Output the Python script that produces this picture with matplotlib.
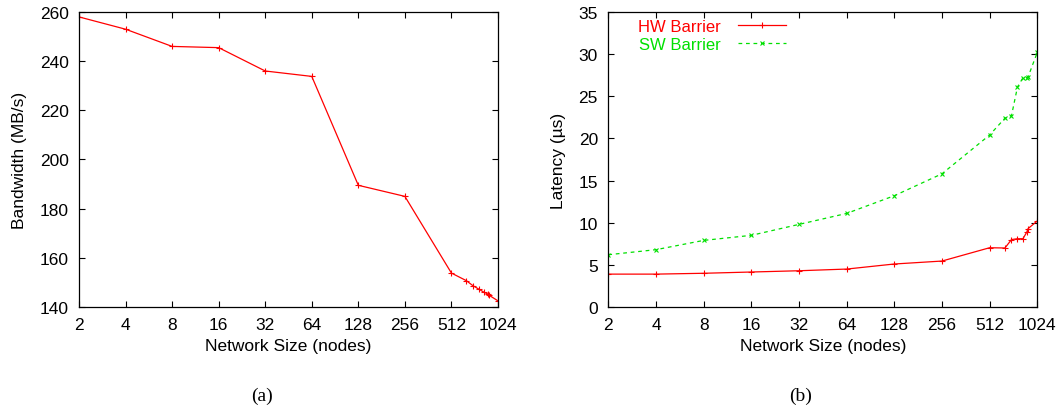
import matplotlib
matplotlib.use('Agg')
import matplotlib.pyplot as plt
from matplotlib.ticker import FixedLocator, NullLocator

plt.rcParams['font.family'] = ['Liberation Sans', 'DejaVu Sans']
plt.rcParams['font.size'] = 12.5

# ---------------- data ----------------
nodes = [2, 4, 8, 16, 32, 64, 128, 256, 512, 640, 704, 768, 832, 880, 896, 1024]
bandwidth = [258, 253, 246, 245.5, 236, 233.8, 189.5, 185, 153.8,
             150.7, 148.7, 147.3, 146.0, 145.3, 144.8, 142.5]
hw_barrier = [3.9, 3.9, 4.0, 4.15, 4.3, 4.5, 5.1, 5.45, 7.03,
              7.0, 8.0, 8.1, 8.1, 8.9, 9.3, 10.2]
sw_barrier = [6.2, 6.8, 7.9, 8.5, 9.8, 11.1, 13.2, 15.8, 20.4,
              22.4, 22.7, 26.1, 27.2, 27.2, 27.3, 30.2]
xticks = [2, 4, 8, 16, 32, 64, 128, 256, 512, 1024]

RED = '#ff0000'
GREEN = '#00e000'


def style_axes(ax, yticks):
    ax.set_xscale('log', base=2)
    ax.set_xlim(2, 1024)
    ax.xaxis.set_major_locator(FixedLocator(xticks))
    ax.xaxis.set_minor_locator(NullLocator())
    ax.set_xticklabels([str(t) for t in xticks])
    ax.set_yticks(yticks)
    ax.set_ylim(yticks[0], yticks[-1])
    ax.tick_params(direction='in', top=True, right=True, length=4.5,
                   width=0.8, pad=7.5, labelsize=12.5)
    for s in ax.spines.values():
        s.set_linewidth(0.9)
    ax.set_xlabel('Network Size (nodes)', fontsize=12.5, labelpad=4)


fig = plt.figure(figsize=(10.62, 4.10), dpi=100)

ax1 = fig.add_axes([0.0744, 0.2488, 0.3945, 0.7195])
ax1.plot(nodes, bandwidth, color=RED, lw=0.9, marker='+', ms=4, mew=0.8)
style_axes(ax1, list(range(140, 261, 20)))
ax1.set_ylabel('Bandwidth (MB/s)', fontsize=12.5, labelpad=9)

ax2 = fig.add_axes([0.5728, 0.2488, 0.4039, 0.7195])
ax2.plot(nodes, hw_barrier, color=RED, lw=0.9, marker='+', ms=4, mew=0.8,
         label='HW Barrier')
ax2.plot(nodes, sw_barrier, color=GREEN, lw=0.9, ls=(0, (3, 3)), marker='x',
         ms=3.5, mew=0.8, label='SW Barrier')
style_axes(ax2, list(range(0, 36, 5)))
ax2.set_ylabel('Latency (\u00b5s)', fontsize=12.5, labelpad=9)
ax2.legend(loc='upper left', bbox_to_anchor=(0.054, 1.0), frameon=False,
           markerfirst=False, labelcolor='linecolor', handlelength=2.9,
           handletextpad=1.0, labelspacing=0.2, fontsize=12,
           borderaxespad=0.0)

fig.text(0.2464, 0.034, '(a)', ha='center', va='center',
         family='Liberation Serif', fontsize=14)
fig.text(0.754, 0.034, '(b)', ha='center', va='center',
         family='Liberation Serif', fontsize=14)

fig.savefig('out.png', dpi=100)
